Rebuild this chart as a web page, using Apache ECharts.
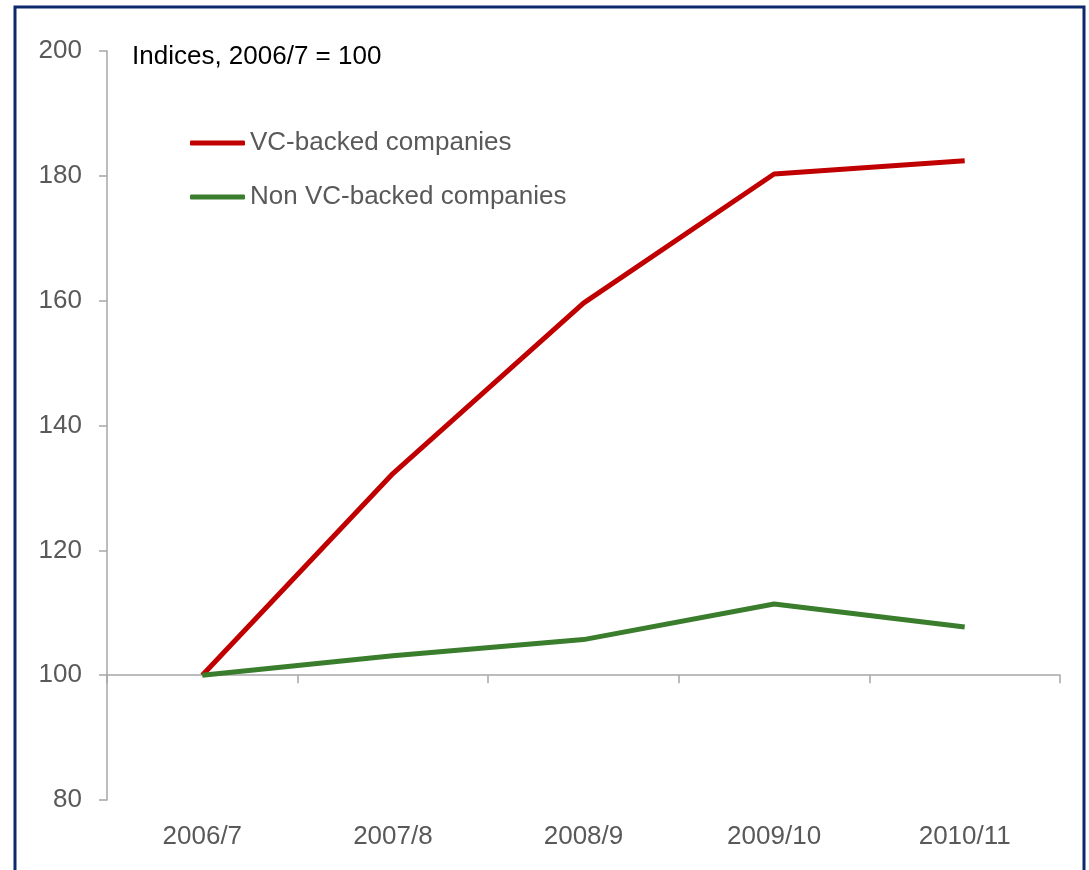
<!DOCTYPE html>
<html>
<head>
<meta charset="utf-8">
<script src="https://cdn.jsdelivr.net/npm/echarts@6/dist/echarts.min.js"></script>
<style>
  html, body { margin: 0; padding: 0; background: #fff; }
  #chart { width: 1089px; height: 870px; }
</style>
</head>
<body>
<div id="chart"></div>
<script>
var years = ['2006/7', '2007/8', '2008/9', '2009/10', '2010/11'];
var vcBacked = [100, 132.3, 159.6, 180.3, 182.4];
var nonVcBacked = [100, 103.1, 105.7, 111.4, 107.7];
var yTicks = { min: 80, max: 200, step: 20 };

var chart = echarts.init(document.getElementById('chart'));
var gray = '#a6a6a6';
var textGray = '#595959';
var font = 'Liberation Sans, Arial, sans-serif';

var option = {
    animation: false,
    graphic: [{
        type: 'rect',
        shape: { x: 15, y: 7, width: 1069, height: 900 },
        style: { fill: 'none', stroke: '#0c2a6b', lineWidth: 3 }
    }, {
        type: 'text',
        left: 132, top: 44,
        style: { text: 'Indices, 2006/7 = 100', fill: '#000', font: '26px ' + font }
    }],
    legend: {
        orient: 'vertical',
        left: 185, top: 125,
        icon: 'roundRect',
        itemWidth: 55, itemHeight: 5, itemGap: 28,
        textStyle: { color: textGray, fontSize: 26, fontFamily: font },
        data: ['VC-backed companies', 'Non VC-backed companies']
    },
    grid: { left: 107, right: 29, top: 51, bottom: 70 },
    xAxis: [{
        type: 'category',
        data: years,
        axisLine: { show: false },
        axisTick: { show: false },
        axisLabel: { color: textGray, fontSize: 26, fontFamily: font, margin: 24 }
    }, {
        // horizontal baseline drawn at 100
        type: 'category',
        data: years,
        position: 'bottom',
        offset: -124.8,
        axisLine: { show: true, lineStyle: { color: gray, width: 1.5 } },
        axisTick: { show: true, length: 8, lineStyle: { color: gray, width: 1.5 } },
        axisLabel: { show: false }
    }],
    yAxis: {
        type: 'value',
        min: yTicks.min, max: yTicks.max, interval: yTicks.step,
        splitLine: { show: false },
        axisLine: { show: true, lineStyle: { color: gray, width: 1.5 } },
        axisTick: { show: true, length: 8, lineStyle: { color: gray, width: 1.5 } },
        axisLabel: { color: textGray, fontSize: 26, fontFamily: font, margin: 25 }
    },
    series: [{
        name: 'VC-backed companies',
        type: 'line',
        data: vcBacked,
        symbol: 'none',
        lineStyle: { color: '#c00000', width: 5 },
        itemStyle: { color: '#c00000' }
    }, {
        name: 'Non VC-backed companies',
        type: 'line',
        data: nonVcBacked,
        symbol: 'none',
        lineStyle: { color: '#3a7d2c', width: 5 },
        itemStyle: { color: '#3a7d2c' }
    }]
};
chart.setOption(option);
</script>
</body>
</html>
